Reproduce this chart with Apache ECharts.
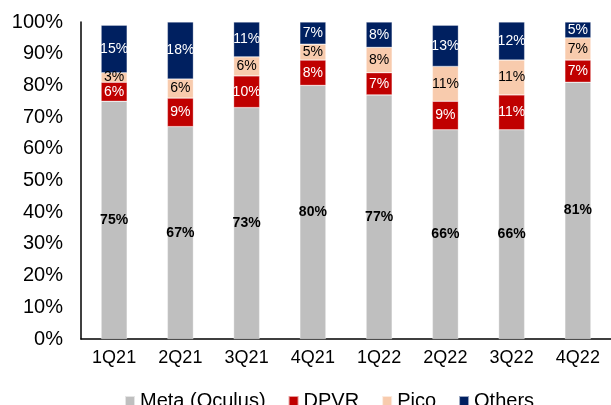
<!DOCTYPE html>
<html>
<head>
<meta charset="utf-8">
<script src="https://cdn.jsdelivr.net/npm/echarts@6/dist/echarts.min.js"></script>
<style>
  html, body { margin: 0; padding: 0; background: #fff; }
  #chart { width: 611px; height: 405px; }
</style>
</head>
<body>
<div id="chart"></div>
<script>
  // 数据
  var categories = ['1Q21', '2Q21', '3Q21', '4Q21', '1Q22', '2Q22', '3Q22', '4Q22'];
  var meta = [75, 67, 73, 80, 77, 66, 66, 81];
  var dpvr = [6, 9, 10, 8, 7, 9, 11, 7];
  var pico = [3, 6, 6, 5, 8, 11, 11, 7];
  var others = [15, 18, 11, 7, 8, 13, 12, 5];
  var yTicks = [0, 10, 20, 30, 40, 50, 60, 70, 80, 90, 100];

  var font = 'Arial, "Liberation Sans", sans-serif';

  // 每个系列
  function makeSeries(name, data, color, labelColor, bold) {
    return {
      name: name,
      type: 'bar',
      stack: 'share',
      barWidth: 26,
      data: data,
      itemStyle: {color: color, borderColor: 'rgba(255,255,255,0.6)', borderWidth: 0.5},
      label: {
        show: true,
        position: 'inside',
        formatter: '{c}%',
        color: labelColor,
        fontFamily: font,
        fontSize: 14,
        fontWeight: bold ? 'bold' : 'normal'
      }
    };
  }

  var myChart = echarts.init(document.getElementById('chart'));
  var option = {
    animation: false,
    grid: {
      left: 81,
      top: 22,
      width: 537,
      bottom: 66
    },
    xAxis: {
      type: 'category',
      data: categories,
      axisLine: {lineStyle: {color: '#000', width: 1.5}},
      axisTick: {show: false},
      axisLabel: {color: '#000', fontFamily: font, fontSize: 18, margin: 10}
    },
    yAxis: {
      type: 'value',
      min: yTicks[0],
      max: yTicks[yTicks.length - 1],
      interval: yTicks[1] - yTicks[0],
      splitLine: {show: false},
      axisLine: {show: true, lineStyle: {color: '#000', width: 1.5}},
      axisTick: {show: false},
      axisLabel: {formatter: '{value}%', color: '#000', fontFamily: font, fontSize: 20, margin: 18}
    },
    // 图例
    legend: {
      left: 119,
      top: 386,
      itemWidth: 10,
      itemHeight: 10,
      itemGap: 22,
      icon: 'rect',
      textStyle: {color: '#000', fontFamily: font, fontSize: 20},
      data: ['Meta (Oculus)', 'DPVR', 'Pico', 'Others']
    },
    series: [
      makeSeries('Meta (Oculus)', meta, '#BFBFBF', '#000', true),
      makeSeries('DPVR', dpvr, '#C00000', '#fff', false),
      makeSeries('Pico', pico, '#F8CBAD', '#000', false),
      makeSeries('Others', others, '#002060', '#fff', false)
    ]
  };
  myChart.setOption(option, true);
</script>
</body>
</html>
